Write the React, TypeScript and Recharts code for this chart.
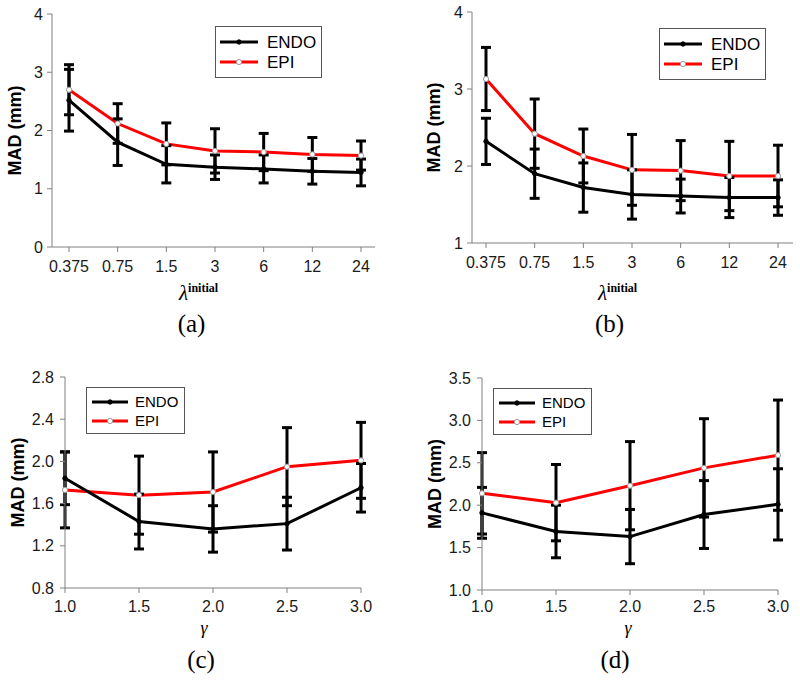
import React from 'react';
import { LineChart, Line, XAxis, YAxis, ErrorBar, Legend } from 'recharts';

// x categories
const lambdaLabels = ['0.375', '0.75', '1.5', '3', '6', '12', '24'];
const gammaValues = [1.0, 1.5, 2.0, 2.5, 3.0];

// panel (a)
const endoA = [2.52, 1.8, 1.42, 1.37, 1.34, 1.3, 1.28];
const endoAErr = [0.53, 0.4, 0.32, 0.21, 0.24, 0.22, 0.23];
const epiA = [2.7, 2.12, 1.77, 1.65, 1.63, 1.59, 1.57];
const epiAErr = [0.43, 0.34, 0.36, 0.38, 0.32, 0.29, 0.25];

// panel (b)
const endoB = [2.32, 1.9, 1.72, 1.63, 1.61, 1.59, 1.59];
const endoBErr = [0.3, 0.32, 0.32, 0.32, 0.22, 0.26, 0.23];
const epiB = [3.13, 2.42, 2.13, 1.95, 1.94, 1.87, 1.87];
const epiBErr = [0.41, 0.45, 0.35, 0.46, 0.39, 0.45, 0.4];

// panel (c)
const endoC = [1.84, 1.43, 1.36, 1.41, 1.75];
const endoCErr = [0.25, 0.26, 0.22, 0.25, 0.23];
const epiC = [1.73, 1.68, 1.71, 1.95, 2.01];
const epiCErr = [0.36, 0.37, 0.38, 0.37, 0.36];

// panel (d)
const endoD = [1.91, 1.69, 1.63, 1.89, 2.01];
const endoDErr = [0.3, 0.31, 0.32, 0.4, 0.42];
const epiD = [2.14, 2.03, 2.23, 2.44, 2.59];
const epiDErr = [0.48, 0.45, 0.52, 0.58, 0.65];

// y ticks
const yTicksA = [0, 1, 2, 3, 4];
const yTicksB = [1, 2, 3, 4];
const yTicksC = [0.8, 1.2, 1.6, 2.0, 2.4, 2.8];
const yTicksD = [1.0, 1.5, 2.0, 2.5, 3.0, 3.5];

const SANS = '"Liberation Sans", Arial, sans-serif';
const SERIF = '"Liberation Serif", "Times New Roman", serif';
const FRAME = '#808080';
const TEXT = '#1a1a1a';
const RED = '#ff0000';

const rows = (xs: (string | number)[], endo: number[], endoErr: number[], epi: number[], epiErr: number[]) =>
  xs.map((x, i) => ({ x, endo: endo[i], endoErr: endoErr[i], epi: epi[i], epiErr: epiErr[i] }));

const LegendBox = ({ w, h, font, rowH, padTop, lineLen, padLeft, gap }: any) => (
  <div
    style={{
      width: w,
      height: h,
      boxSizing: 'border-box',
      border: '1px solid #555',
      background: '#fff',
      paddingTop: padTop,
      paddingLeft: padLeft,
      fontFamily: SANS,
      fontSize: font,
      color: '#000',
    }}
  >
    {[
      { name: 'ENDO', stroke: '#000', fill: '#000', ring: '#000', r: 2.2 },
      { name: 'EPI', stroke: RED, fill: '#fff', ring: '#999', r: 2.6 },
    ].map((s) => (
      <div key={s.name} style={{ display: 'flex', alignItems: 'center', height: rowH }}>
        <svg width={lineLen} height={10} style={{ display: 'block' }}>
          <line x1={0} y1={5} x2={lineLen} y2={5} stroke={s.stroke} strokeWidth={3} />
          <circle cx={lineLen / 2} cy={5} r={s.r} fill={s.fill} stroke={s.ring} strokeWidth={1} />
        </svg>
        <span style={{ marginLeft: gap, lineHeight: 1 }}>{s.name}</span>
      </div>
    ))}
  </div>
);

type PanelProps = {
  left: number;
  top: number;
  height: number;
  data: any[];
  numericX: boolean;
  xPad?: { left: number; right: number };
  yDomain: [number, number];
  yTicks: number[];
  yFmt: (v: number) => string;
  yWidth: number;
  xHeight: number;
  margin: { top: number; right: number; left: number; bottom: number };
  tickMarginY: number;
  tickMarginX: number;
  yLabelDx: number;
  axisSym: 'lambda' | 'gamma';
  symDx: number;
  symDy: number;
  caption: string;
  capDx: number;
  capDy: number;
  legendPos: { left: number; top: number };
  legend: any;
};

const Panel = (p: PanelProps) => {
  const xLabel = (lp: any) => {
    const vb = lp.viewBox;
    const cx = vb.x + vb.width / 2;
    return (
      <g>
        {p.axisSym === 'lambda' ? (
          <text x={cx + p.symDx} y={vb.y + p.symDy} textAnchor="middle" fontFamily={SERIF} fill="#000">
            <tspan fontStyle="italic" fontSize={21}>λ</tspan>
            <tspan fontSize={12} fontWeight="bold" dy={-8}>initial</tspan>
          </text>
        ) : (
          <text x={cx + p.symDx} y={vb.y + p.symDy} textAnchor="middle" fontFamily={SERIF} fontStyle="italic" fontSize={18} fill="#000">
            γ
          </text>
        )}
        <text x={cx + p.capDx} y={vb.y + p.capDy} textAnchor="middle" fontFamily={SERIF} fontSize={25} fill="#000">
          {p.caption}
        </text>
      </g>
    );
  };

  const yLabel = (lp: any) => {
    const vb = lp.viewBox;
    const x = vb.x + vb.width + p.yLabelDx;
    const y = vb.y + vb.height / 2;
    return (
      <text
        x={x}
        y={y}
        transform={`rotate(-90 ${x} ${y})`}
        textAnchor="middle"
        dominantBaseline="central"
        fontFamily={SANS}
        fontWeight="bold"
        fontSize={18}
        fill="#000"
      >
        MAD (mm)
      </text>
    );
  };

  return (
    <div style={{ position: 'absolute', left: p.left, top: p.top }}>
      <LineChart width={400} height={p.height} data={p.data} margin={p.margin}>
        {p.numericX ? (
          <XAxis
            dataKey="x"
            type="number"
            domain={[1, 3]}
            ticks={gammaValues}
            tickFormatter={(v: number) => v.toFixed(1)}
            height={p.xHeight}
            stroke={FRAME}
            tickSize={5}
            tickMargin={p.tickMarginX}
            tick={{ fill: TEXT, fontSize: 16, fontFamily: SANS }}
            label={xLabel}
          />
        ) : (
          <XAxis
            dataKey="x"
            type="category"
            padding={p.xPad}
            height={p.xHeight}
            stroke={FRAME}
            tickSize={5}
            tickMargin={p.tickMarginX}
            tick={{ fill: TEXT, fontSize: 16, fontFamily: SANS }}
            interval={0}
            label={xLabel}
          />
        )}
        <XAxis xAxisId="top" orientation="top" type="number" domain={[0, 1]} height={0} tick={false} tickLine={false} axisLine={{ stroke: FRAME }} />
        <YAxis
          type="number"
          domain={p.yDomain}
          ticks={p.yTicks}
          allowDataOverflow
          tickFormatter={p.yFmt}
          width={p.yWidth}
          stroke={FRAME}
          tickSize={5}
          tickMargin={p.tickMarginY}
          tick={{ fill: TEXT, fontSize: 16, fontFamily: SANS }}
          label={yLabel}
        />
        <YAxis yAxisId="frame" orientation="right" type="number" domain={[0, 1]} width={0} tick={false} tickLine={false} axisLine={{ stroke: FRAME }} />
        <Legend
          layout="vertical"
          align="center"
          verticalAlign="middle"
          wrapperStyle={{ left: p.legendPos.left, top: p.legendPos.top, width: 'auto' }}
          content={() => <LegendBox {...p.legend} />}
        />
        <Line dataKey="epi" name="EPI line" stroke={RED} strokeWidth={3} dot={false} legendType="none" isAnimationActive={false} />
        <Line
          dataKey="endo"
          name="ENDO"
          stroke="#000"
          strokeWidth={3}
          dot={{ r: 2.2, fill: '#000', stroke: '#000', strokeWidth: 1 }}
          isAnimationActive={false}
        >
          <ErrorBar dataKey="endoErr" width={5} stroke="#000" strokeWidth={3} direction="y" />
        </Line>
        <Line
          dataKey="epi"
          name="EPI"
          stroke="none"
          dot={{ r: 2.6, fill: '#fff', stroke: '#999', strokeWidth: 1 }}
          isAnimationActive={false}
        >
          <ErrorBar dataKey="epiErr" width={5} stroke="#000" strokeWidth={3} direction="y" />
        </Line>
      </LineChart>
    </div>
  );
};

const legendBig = { w: 107, h: 52, font: 17, rowH: 20, padTop: 5, lineLen: 38, padLeft: 4, gap: 9 };
const legendSmall = { w: 99, h: 47, font: 15, rowH: 19, padTop: 4, lineLen: 36, padLeft: 5, gap: 7 };

export default function App() {
  return (
    <div style={{ position: 'absolute', left: 0, top: 0, width: 800, height: 681, background: '#fff', overflow: 'hidden' }}>
      <Panel
        left={0}
        top={0}
        height={340}
        data={rows(lambdaLabels, endoA, endoAErr, epiA, epiAErr)}
        numericX={false}
        xPad={{ left: 17, right: 14 }}
        yDomain={[0, 4]}
        yTicks={yTicksA}
        yFmt={(v) => String(v)}
        yWidth={52}
        xHeight={93}
        margin={{ top: 14, right: 25, left: 0, bottom: 0 }}
        tickMarginY={4}
        tickMarginX={9}
        yLabelDx={-37}
        axisSym="lambda"
        symDx={-15}
        symDy={53}
        caption="(a)"
        capDx={-22}
        capDy={85}
        legendPos={{ left: 215, top: 26 }}
        legend={legendBig}
      />
      <Panel
        left={400}
        top={0}
        height={340}
        data={rows(lambdaLabels, endoB, endoBErr, epiB, epiBErr)}
        numericX={false}
        xPad={{ left: 14, right: 15 }}
        yDomain={[1, 4]}
        yTicks={yTicksB}
        yFmt={(v) => String(v)}
        yWidth={72}
        xHeight={97}
        margin={{ top: 12, right: 7, left: 0, bottom: 0 }}
        tickMarginY={4}
        tickMarginX={9}
        yLabelDx={-38}
        axisSym="lambda"
        symDx={-15}
        symDy={57}
        caption="(b)"
        capDx={-23}
        capDy={89}
        legendPos={{ left: 259, top: 28 }}
        legend={legendBig}
      />
      <Panel
        left={0}
        top={340}
        height={341}
        data={rows(gammaValues, endoC, endoCErr, epiC, epiCErr)}
        numericX
        yDomain={[0.8, 2.8]}
        yTicks={yTicksC}
        yFmt={(v) => v.toFixed(1)}
        yWidth={65}
        xHeight={93}
        margin={{ top: 37, right: 39, left: 0, bottom: 0 }}
        tickMarginY={6}
        tickMarginX={8}
        yLabelDx={-47}
        axisSym="gamma"
        symDx={-9}
        symDy={46}
        caption="(c)"
        capDx={-12}
        capDy={80}
        legendPos={{ left: 86, top: 47 }}
        legend={legendSmall}
      />
      <Panel
        left={400}
        top={340}
        height={341}
        data={rows(gammaValues, endoD, endoDErr, epiD, epiDErr)}
        numericX
        yDomain={[1.0, 3.5]}
        yTicks={yTicksD}
        yFmt={(v) => v.toFixed(1)}
        yWidth={82}
        xHeight={91}
        margin={{ top: 38, right: 22, left: 0, bottom: 0 }}
        tickMarginY={6}
        tickMarginX={6}
        yLabelDx={-47}
        axisSym="gamma"
        symDx={-2}
        symDy={44}
        caption="(d)"
        capDx={-15}
        capDy={78}
        legendPos={{ left: 93, top: 48 }}
        legend={legendSmall}
      />
    </div>
  );
}
